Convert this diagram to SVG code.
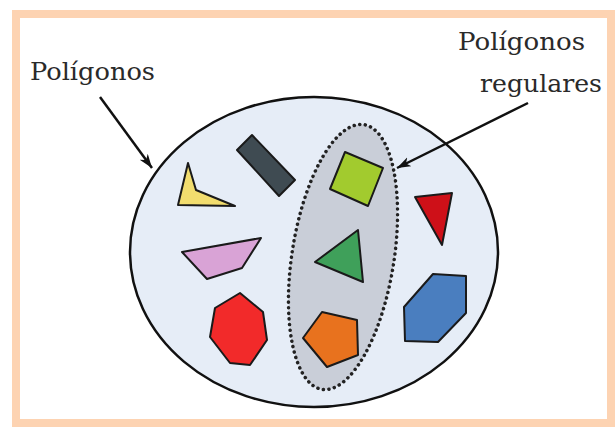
<svg xmlns="http://www.w3.org/2000/svg" width="615" height="427" viewBox="0 0 615 427">
<defs>
<style>
.lbl{font-family:"DejaVu Serif","Liberation Serif",serif;font-size:25px;fill:#2a2a2a}
.shp{stroke:#1a1a1a;stroke-width:2;stroke-linejoin:round}
.arr{stroke:#111;stroke-width:2.5;fill:none}
</style>
<marker id="ah" markerUnits="userSpaceOnUse" markerWidth="16" markerHeight="12" refX="14" refY="5" orient="auto">
<path d="M0,0 L14,5 L0,10 L4,5 Z" fill="#111"/>
</marker>
</defs>
<rect x="0" y="0" width="615" height="427" fill="#ffffff"/>
<rect x="16" y="14" width="595" height="409" fill="none" stroke="#FDD3B2" stroke-width="8"/>
<g id="poligonos">
<ellipse cx="314" cy="252" rx="184" ry="155" fill="#E6EDF7" stroke="#111" stroke-width="2.5"/>
</g>
<g id="poligonos-regulares">
<ellipse cx="0" cy="0" rx="51" ry="134" transform="translate(343,257) rotate(9)" fill="#C9CED8" stroke="#222" stroke-width="3.5" stroke-linecap="round" stroke-dasharray="0.1 5.5"/>
</g>
<g id="rectangulo"><polygon class="shp" points="237,150 252,135 295,180 279,196" fill="#3F4B52"/></g>
<g id="concavo"><polygon class="shp" points="188,163 196,190 235,206 178,205" fill="#F2DD6E"/></g>
<g id="trapecio"><polygon class="shp" points="182,252 261,238 242,268 207,279" fill="#D9A3D6"/></g>
<g id="heptagono"><polygon class="shp" points="240,293 263,312 267,340 250,365 230,363 210,337 215,308" fill="#F22A2A"/></g>
<g id="cuadrado"><polygon class="shp" points="345,152 383,168 368,206 330,189" fill="#A2CB2E"/></g>
<g id="triangulo-verde"><polygon class="shp" points="358,230 315,262 363,282" fill="#3FA05A"/></g>
<g id="pentagono"><polygon class="shp" points="322,312 357,320 358,355 327,367 303,338" fill="#E8721E"/></g>
<g id="triangulo-rojo"><polygon class="shp" points="415,197 452,193 442,245" fill="#CE1018"/></g>
<g id="hexagono"><polygon class="shp" points="433,274 466,276 466,313 438,342 405,341 404,307" fill="#4A7EBF"/></g>
<g id="label-poligonos"><text class="lbl" x="30" y="80" textLength="125" lengthAdjust="spacingAndGlyphs">Polígonos</text></g>
<g id="label-regulares">
<text class="lbl" x="458" y="50" textLength="127" lengthAdjust="spacingAndGlyphs">Polígonos</text>
<text class="lbl" x="480" y="92" textLength="122" lengthAdjust="spacingAndGlyphs">regulares</text>
</g>
<g id="connectors">
<line class="arr" x1="100" y1="97" x2="152" y2="168" marker-end="url(#ah)"/>
<line class="arr" x1="528" y1="103" x2="397" y2="168" marker-end="url(#ah)"/>
</g>
</svg>
